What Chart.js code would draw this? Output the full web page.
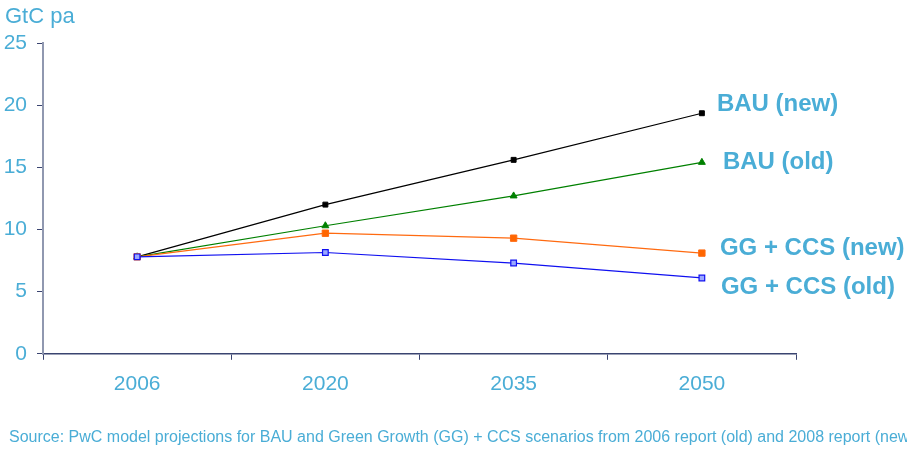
<!DOCTYPE html>
<html>
<head>
<meta charset="utf-8">
<script src="https://cdn.jsdelivr.net/npm/chart.js@4"></script>
<style>
  html, body { margin: 0; padding: 0; background: #fff; }
  #wrap { width: 907px; height: 450px; }
</style>
</head>
<body>
<div id="wrap"><canvas id="c" width="907" height="450"></canvas></div>
<script>
const years = ['2006', '2020', '2035', '2050'];
const bauNew = [7.8, 12.0, 15.6, 19.35];
const bauOld = [7.8, 10.3, 12.7, 15.4];
const ggNew = [7.8, 9.7, 9.3, 8.1];
const ggOld = [7.8, 8.15, 7.3, 6.1];
const seriesNames = ['BAU (new)', 'BAU (old)', 'GG + CCS (new)', 'GG + CCS (old)'];
const yTicks = [0, 5, 10, 15, 20, 25];

const textBlue = '#4AADD6';
const fontFamily = '"Liberation Sans", Arial, sans-serif';

// labels at the end of each line, plus the unit and the source note
const labelShift = [[15, -9], [21, 0], [18, -5], [19, 9]];
const annotations = {
    id: 'annotations',
    afterDatasetsDraw(chart) {
        const ctx = chart.ctx;
        ctx.save();
        ctx.fillStyle = textBlue;
        ctx.textBaseline = 'middle';
        ctx.textAlign = 'left';
        ctx.font = 'bold 24px ' + fontFamily;
        chart.data.datasets.forEach((ds, i) => {
            const pts = chart.getDatasetMeta(i).data;
            const last = pts[pts.length - 1];
            ctx.fillText(ds.label, last.x + labelShift[i][0], last.y + labelShift[i][1]);
        });
        ctx.font = '22px ' + fontFamily;
        ctx.fillText('GtC pa', 5, 17);
        ctx.font = '16px ' + fontFamily;
        ctx.fillText('Source: PwC model projections for BAU and Green Growth (GG) + CCS scenarios from 2006 report (old) and 2008 report (new', 9, 438);
        ctx.restore();
    }
};

new Chart(document.getElementById('c').getContext('2d'), {
    type: 'line',
    data: {
        labels: years,
        datasets: [
            {
                label: seriesNames[0], data: bauNew, order: 3,
                borderColor: '#000000', backgroundColor: '#000000', borderWidth: 1.2,
                pointStyle: 'rect', pointRadius: 3.5, pointBorderWidth: 1
            },
            {
                label: seriesNames[1], data: bauOld, order: 2,
                borderColor: '#008000', backgroundColor: '#008000', borderWidth: 1.2,
                pointStyle: 'triangle', pointRadius: 4, pointBorderWidth: 1
            },
            {
                label: seriesNames[2], data: ggNew, order: 1,
                borderColor: '#FF6A10', backgroundColor: '#FF6600', borderWidth: 1.2,
                pointStyle: 'rect', pointRadius: 4.5, pointBorderWidth: 1
            },
            {
                label: seriesNames[3], data: ggOld, order: 0,
                borderColor: '#1010F0', backgroundColor: '#9AA8FF', borderWidth: 1.2,
                pointStyle: 'rect', pointRadius: 4, pointBorderWidth: 1.2
            }
        ]
    },
    options: {
        responsive: false,
        animation: false,
        layout: { padding: { top: 43, right: 111, bottom: 41, left: 0 } },
        plugins: {
            legend: { display: false },
            tooltip: { enabled: false }
        },
        scales: {
            x: {
                offset: true,
                grid: { offset: true, drawOnChartArea: false, tickLength: 6, color: '#3A4470' },
                border: { color: '#3A4470', width: 1.5 },
                ticks: { color: textBlue, font: { family: fontFamily, size: 21 }, padding: 12 }
            },
            y: {
                min: 0, max: 25,
                afterBuildTicks(axis) { axis.ticks = yTicks.map(v => ({ value: v })); },
                afterFit(axis) { axis.width = 43; },
                grid: { drawOnChartArea: false, tickLength: 6, color: '#3A4470' },
                border: { color: '#9098B0', width: 2 },
                ticks: { color: textBlue, font: { family: fontFamily, size: 21 }, padding: 10 }
            }
        }
    },
    plugins: [annotations]
});
</script>
</body>
</html>
